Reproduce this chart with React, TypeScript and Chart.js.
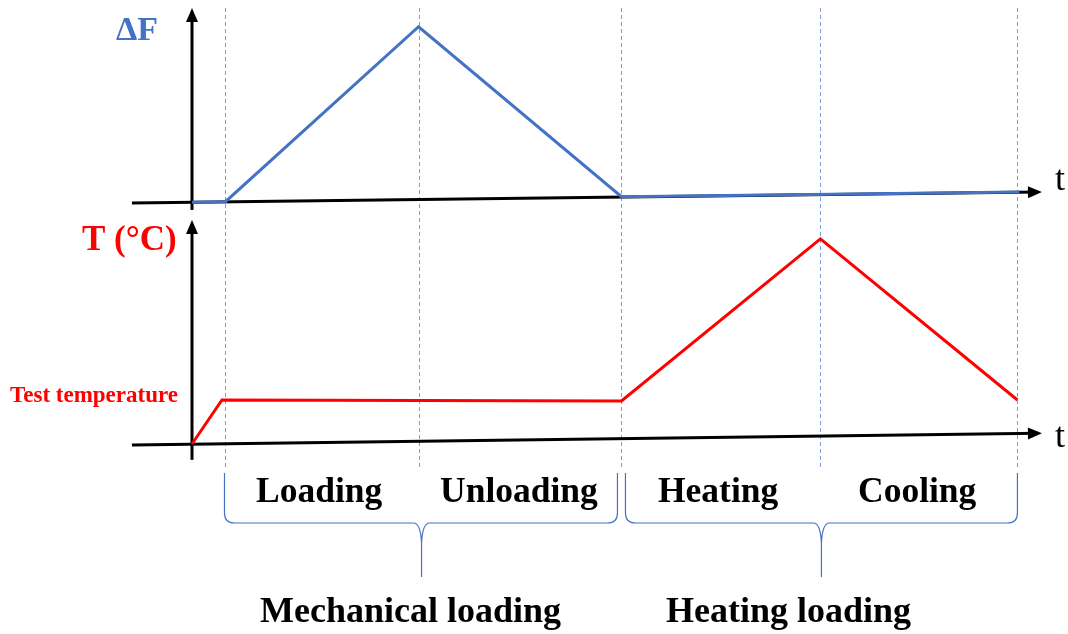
import { useEffect, useRef } from 'react';
import { Chart, registerables } from 'chart.js';

Chart.register(...registerables);

// ---- data (time in arbitrary units, values in arbitrary units) ----
const phaseBoundaries = [0.17, 1.15, 2.18, 3.19, 4.19];
const phaseLabels = ['Loading', 'Unloading', 'Heating', 'Cooling'];
const groupLabels = ['Mechanical loading', 'Heating loading'];

const forceTimes = [0, 0.17, 1.15, 2.18, 4.2];
const forceValues = [0, 0.003, 1.02, 0.032, 0.059];

const tempTimes = [0, 0.152, 2.18, 3.19, 4.19];
const tempValues = [0, 1.0, 0.98, 4.66, 1.0];

const forceAxisTimes = [-0.305, 4.294];
const forceAxisValues = [-0.005, 0.059];
const forceVerticalValues = [-0.045, 1.106];

const tempAxisTimes = [-0.305, 4.294];
const tempAxisValues = [-0.023, 0.242];
const tempVerticalValues = [-0.36, 5.0];

const BLUE = '#4472C4';
const RED = '#FF0000';
const SERIF = '"Liberation Serif", "Times New Roman", serif';

const zip = (xs: number[], ys: number[]) => xs.map((x, i) => ({ x, y: ys[i] }));

const decorPlugin = {
  id: 'decor',
  beforeDatasetsDraw(chart: any) {
    const ctx = chart.ctx;
    const xs = chart.scales.x;
    ctx.save();
    ctx.strokeStyle = '#7C9DD6';
    ctx.lineWidth = 1;
    ctx.setLineDash([4, 3]);
    phaseBoundaries.forEach((t) => {
      const px = Math.round(xs.getPixelForValue(t)) + 0.5;
      ctx.beginPath();
      ctx.moveTo(px, 8);
      ctx.lineTo(px, 470);
      ctx.stroke();
    });
    ctx.restore();
  },
  afterDatasetsDraw(chart: any) {
    const ctx = chart.ctx;
    const xs = chart.scales.x;
    ctx.save();
    // arrowheads
    chart.data.datasets.forEach((ds: any, i: number) => {
      if (!ds.arrow) return;
      const pts = chart.getDatasetMeta(i).data;
      const a = pts[pts.length - 2];
      const b = pts[pts.length - 1];
      const ang = Math.atan2(b.y - a.y, b.x - a.x);
      const c = Math.cos(ang);
      const s = Math.sin(ang);
      const tx = b.x + 4 * c;
      const ty = b.y + 4 * s;
      const L = 14;
      const W = 6;
      const bx = tx - L * c;
      const by = ty - L * s;
      ctx.fillStyle = '#000';
      ctx.beginPath();
      ctx.moveTo(tx, ty);
      ctx.lineTo(bx - W * s, by + W * c);
      ctx.lineTo(bx + W * s, by - W * c);
      ctx.closePath();
      ctx.fill();
    });

    // braces
    const brace = (x0: number, x1: number, cx: number) => {
      const top = 473;
      const mid = 523;
      const tip = 577;
      ctx.beginPath();
      ctx.moveTo(x0, top);
      ctx.lineTo(x0, mid - 10);
      ctx.quadraticCurveTo(x0, mid, x0 + 10, mid);
      ctx.lineTo(cx - 8, mid);
      ctx.quadraticCurveTo(cx - 1, mid, cx, mid + 20);
      ctx.lineTo(cx, tip);
      ctx.moveTo(cx, mid + 20);
      ctx.quadraticCurveTo(cx + 1, mid, cx + 8, mid);
      ctx.lineTo(x1 - 10, mid);
      ctx.quadraticCurveTo(x1, mid, x1, mid - 10);
      ctx.lineTo(x1, top);
      ctx.stroke();
    };
    ctx.strokeStyle = BLUE;
    ctx.lineWidth = 1.2;
    const pb = phaseBoundaries.map((t) => xs.getPixelForValue(t));
    brace(pb[0] - 1, pb[2] - 4, pb[1] + 3);
    brace(pb[2] + 4, pb[4], pb[3] + 1);

    // texts
    ctx.textBaseline = 'alphabetic';
    ctx.textAlign = 'left';
    ctx.fillStyle = BLUE;
    ctx.font = `bold 34px ${SERIF}`;
    ctx.fillText('\u0394F', 116, 40);

    ctx.fillStyle = RED;
    ctx.font = `bold 35px ${SERIF}`;
    ctx.fillText('T (\u00B0C)', 82, 250);
    ctx.font = `bold 23px ${SERIF}`;
    ctx.fillText('Test temperature', 10, 402);

    ctx.fillStyle = '#000';
    ctx.font = `36px ${SERIF}`;
    ctx.fillText('t', 1055, 190);
    ctx.fillText('t', 1055, 447);

    ctx.font = `bold 35.5px ${SERIF}`;
    const phaseX = [256, 440, 658, 858];
    phaseLabels.forEach((lbl, i) => ctx.fillText(lbl, phaseX[i], 502));
    ctx.font = `bold 36px ${SERIF}`;
    const groupX = [260, 666];
    groupLabels.forEach((lbl, i) => ctx.fillText(lbl, groupX[i], 622));
    ctx.restore();
  },
};

export default function App() {
  const ref = useRef<HTMLCanvasElement | null>(null);
  useEffect(() => {
    if (!ref.current) return;
    const X0 = 192;
    const PXU = 197;
    const F0 = 202.2;
    const FU = 172;
    const T0 = 444;
    const TU = 44;
    const W = 1068;
    const H = 634;
    const chart = new Chart(ref.current, {
      type: 'line',
      data: {
        datasets: [
          {
            data: zip(forceTimes, forceValues),
            yAxisID: 'yF',
            borderColor: BLUE,
            borderWidth: 3,
            order: 0,
          },
          {
            data: zip(tempTimes, tempValues),
            yAxisID: 'yT',
            borderColor: RED,
            borderWidth: 3,
            order: 0,
          },
          {
            data: zip(forceAxisTimes, forceAxisValues),
            yAxisID: 'yF',
            borderColor: '#000',
            borderWidth: 3,
            order: 1,
            arrow: true,
          },
          {
            data: zip([0, 0], forceVerticalValues),
            yAxisID: 'yF',
            borderColor: '#000',
            borderWidth: 3,
            order: 1,
            arrow: true,
          },
          {
            data: zip(tempAxisTimes, tempAxisValues),
            yAxisID: 'yT',
            borderColor: '#000',
            borderWidth: 3,
            order: 1,
            arrow: true,
          },
          {
            data: zip([0, 0], tempVerticalValues),
            yAxisID: 'yT',
            borderColor: '#000',
            borderWidth: 3,
            order: 1,
            arrow: true,
          },
        ] as any,
      },
      options: {
        responsive: false,
        maintainAspectRatio: false,
        animation: false,
        layout: { padding: 0 },
        elements: { point: { radius: 0, hoverRadius: 0 }, line: { tension: 0 } },
        plugins: { legend: { display: false }, tooltip: { enabled: false } },
        events: [],
        scales: {
          x: { type: 'linear', display: false, min: -X0 / PXU, max: (W - X0) / PXU },
          yF: { type: 'linear', display: false, min: (F0 - H) / FU, max: F0 / FU },
          yT: { type: 'linear', display: false, min: (T0 - H) / TU, max: T0 / TU },
        },
      },
      plugins: [decorPlugin],
    });
    return () => chart.destroy();
  }, []);
  return (
    <div style={{ position: 'fixed', left: 0, top: 0, width: 1068, height: 634, background: '#fff' }}>
      <canvas ref={ref} width={1068} height={634} style={{ width: 1068, height: 634, display: 'block' }} />
    </div>
  );
}
